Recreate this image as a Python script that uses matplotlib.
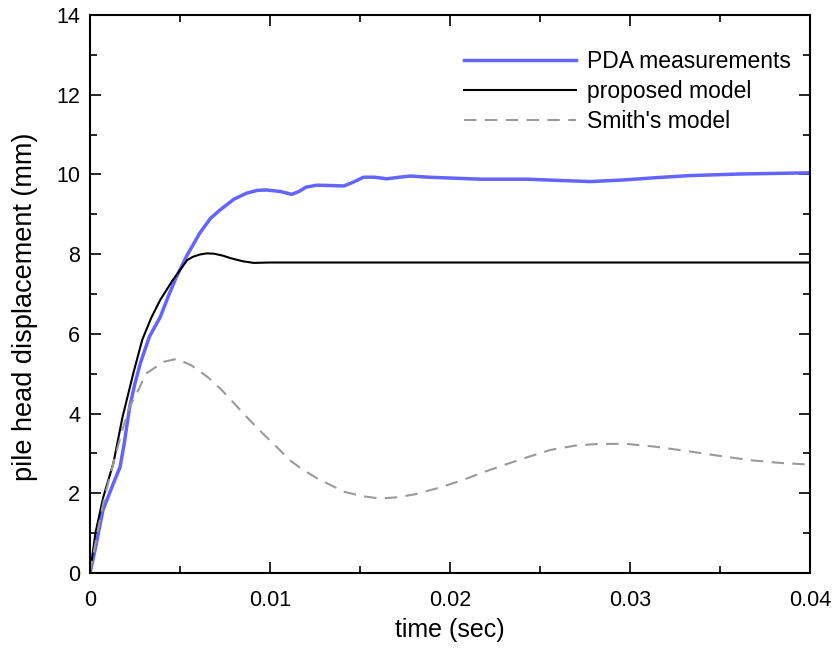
import matplotlib
matplotlib.use('Agg')
import matplotlib.pyplot as plt
from matplotlib.ticker import MultipleLocator

plt.rcParams['font.family'] = ['Liberation Sans', 'DejaVu Sans']

# PDA measurements
t_pda = [0.0, 0.00028, 0.00072, 0.0013, 0.00167, 0.0019, 0.0022, 0.0025, 0.0028, 0.0033,
         0.0039, 0.0044, 0.0048, 0.0054, 0.0061, 0.0067, 0.0072, 0.0080, 0.0087, 0.0093,
         0.0098, 0.0106, 0.0112, 0.0116, 0.0120, 0.0126, 0.0134, 0.0141, 0.0146, 0.0152,
         0.0158, 0.0165, 0.0172, 0.0178, 0.0188, 0.0217, 0.0243, 0.0260, 0.0278, 0.0296,
         0.0315, 0.0333, 0.0361, 0.0400]
y_pda = [0.0, 0.58, 1.58, 2.25, 2.66, 3.25, 4.16, 4.76, 5.27, 5.93,
         6.42, 7.0, 7.43, 7.98, 8.53, 8.9, 9.1, 9.38, 9.53, 9.6,
         9.61, 9.57, 9.50, 9.57, 9.68, 9.73, 9.72, 9.71, 9.80, 9.93,
         9.93, 9.89, 9.93, 9.96, 9.93, 9.88, 9.88, 9.85, 9.82, 9.86,
         9.92, 9.97, 10.01, 10.04]

# proposed model
t_prop = [0.0, 0.0003, 0.00074, 0.0013, 0.0018, 0.0024, 0.0029, 0.0034, 0.0039, 0.0046,
          0.0050, 0.0054, 0.0057, 0.0061, 0.0065, 0.0069, 0.0074, 0.0078, 0.0085, 0.0091,
          0.0100, 0.0150, 0.0250, 0.0400]
y_prop = [0.0, 1.0, 1.91, 2.76, 3.9, 5.0, 5.85, 6.4, 6.85, 7.35,
          7.6, 7.85, 7.93, 7.99, 8.02, 8.01, 7.96, 7.9, 7.82, 7.78,
          7.79, 7.79, 7.79, 7.79]

# Smith's model
t_smith = [0.0, 0.0004, 0.0008, 0.0013, 0.0018, 0.0022, 0.0027, 0.0031, 0.0035, 0.0041,
           0.0048, 0.0056, 0.0065, 0.0073, 0.0081, 0.0088, 0.0096, 0.0104, 0.0111, 0.0118,
           0.0126, 0.0134, 0.0141, 0.0151, 0.0161, 0.0171, 0.0181, 0.0194, 0.0207, 0.0218,
           0.0230, 0.0244, 0.0256, 0.0270, 0.0283, 0.0298, 0.0314, 0.0330, 0.0348, 0.0367,
           0.0384, 0.0400]
y_smith = [0.0, 1.0, 1.9, 2.76, 3.6, 4.17, 4.6, 5.0, 5.12, 5.3,
           5.37, 5.22, 4.93, 4.6, 4.21, 3.87, 3.5, 3.15, 2.83, 2.6,
           2.38, 2.2, 2.04, 1.93, 1.87, 1.9, 1.98, 2.14, 2.33, 2.52,
           2.71, 2.92, 3.09, 3.2, 3.24, 3.24, 3.17, 3.07, 2.95, 2.83,
           2.76, 2.72]

fig = plt.figure(figsize=(8.35, 6.48), dpi=100)
ax = fig.add_axes([0.1078, 0.1157, 0.8622, 0.8612])

ax.plot(t_pda, y_pda, color='#6464ff', linewidth=2.5, label='PDA measurements')
ax.plot(t_prop, y_prop, color='black', linewidth=1.5, label='proposed model')
ax.plot(t_smith, y_smith, color='#9a9a9a', linewidth=1.5, dashes=(6, 4), label="Smith's model")

ax.set_xlim(0, 0.04)
ax.set_ylim(0, 14)
ax.set_xticks([0, 0.01, 0.02, 0.03, 0.04])
ax.set_xticklabels(['0', '0.01', '0.02', '0.03', '0.04'])
ax.set_yticks(range(0, 15, 2))
ax.xaxis.set_minor_locator(MultipleLocator(0.005))
ax.yaxis.set_minor_locator(MultipleLocator(1))
ax.tick_params(which='both', direction='in', top=True, right=True, labelsize=15.5, width=1.2)
ax.tick_params(which='major', length=8)
ax.tick_params(axis='x', which='major', pad=12.5)
ax.tick_params(axis='y', which='major', pad=7)
ax.tick_params(which='minor', length=5)
for s in ax.spines.values():
    s.set_linewidth(1.5)

ax.set_xlabel('time (sec)', fontsize=18, labelpad=5)
ax.set_ylabel('pile head displacement (mm)', fontsize=19.5, labelpad=13)
ax.yaxis.label.set_y(0.477)

ax.legend(loc='upper right', frameon=False, fontsize=16.5, handlelength=4.9,
          handletextpad=0.48, labelspacing=0.3, borderaxespad=0,
          bbox_to_anchor=(0.986, 0.9535))

fig.savefig('out.png', dpi=100)
